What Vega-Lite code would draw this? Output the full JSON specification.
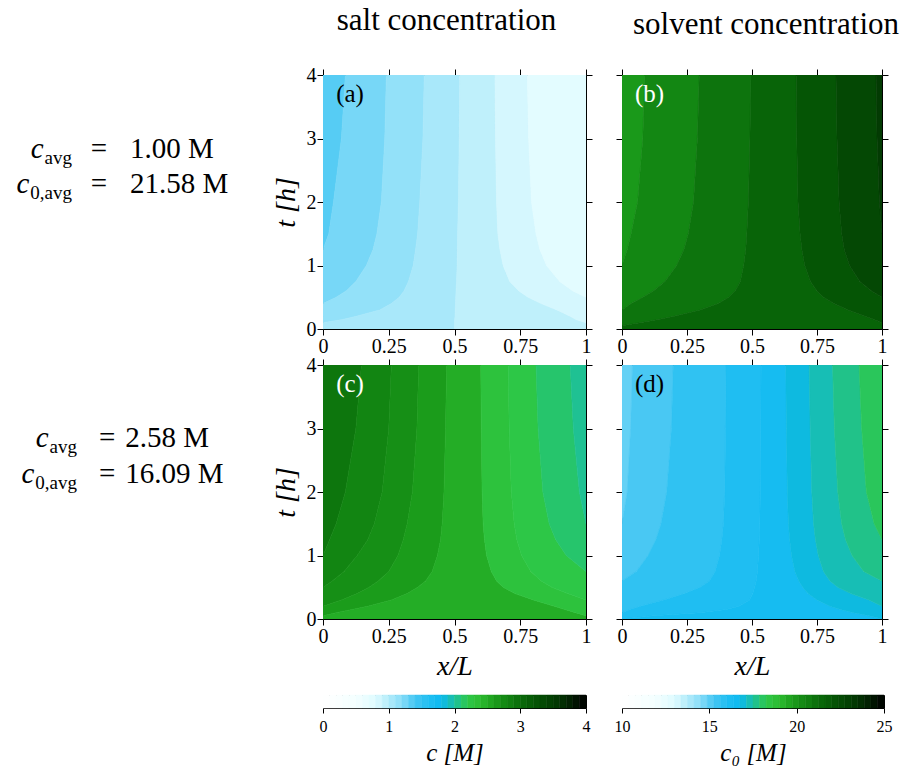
{
"$schema": "https://vega.github.io/schema/vega-lite/v6.json",
"padding": {"top": 4, "left": 0, "right": 0, "bottom": 0},
"config": {
 "font": "Liberation Serif",
 "view": {"stroke": "black", "strokeWidth": 1},
 "axis": {"domain": false, "grid": false, "tickColor": "black", "tickSize": 6, "tickWidth": 1, "labelFont": "Liberation Serif", "labelFontSize": 20, "labelColor": "black", "labelPadding": 1, "titleFont": "Liberation Serif", "titleFontSize": 28, "titleFontWeight": "normal", "titleFontStyle": "italic", "titleColor": "black", "titlePadding": 6},
 "title": {"font": "Liberation Serif", "fontWeight": "normal", "color": "black"},
 "text": {"font": "Liberation Serif", "color": "black"}
},
"datasets": {
"a": [
{"t":1.25,"xa":0,"xb":0,"v":1.35},{"t":1.5,"xa":0,"xb":0.022,"v":1.35},{"t":2,"xa":0,"xb":0.04,"v":1.35},{"t":3,"xa":0,"xb":0.07,"v":1.35},{"t":4,"xa":0,"xb":0.085,"v":1.35},
{"t":0.4,"xa":0,"xb":0,"v":1.25},{"t":0.5,"xa":0,"xb":0.05,"v":1.25},{"t":0.6,"xa":0,"xb":0.088,"v":1.25},{"t":0.75,"xa":0,"xb":0.125,"v":1.25},{"t":1,"xa":0,"xb":0.165,"v":1.25},{"t":1.25,"xa":0,"xb":0.19,"v":1.25},{"t":1.5,"xa":0.022,"xb":0.205,"v":1.25},{"t":2,"xa":0.04,"xb":0.222,"v":1.25},{"t":3,"xa":0.07,"xb":0.235,"v":1.25},{"t":4,"xa":0.085,"xb":0.241,"v":1.25},
{"t":0.1,"xa":0,"xb":0,"v":1.15},{"t":0.15,"xa":0,"xb":0.075,"v":1.15},{"t":0.2,"xa":0,"xb":0.127,"v":1.15},{"t":0.3,"xa":0,"xb":0.216,"v":1.15},{"t":0.4,"xa":0,"xb":0.26,"v":1.15},{"t":0.5,"xa":0.05,"xb":0.29,"v":1.15},{"t":0.6,"xa":0.088,"xb":0.308,"v":1.15},{"t":0.75,"xa":0.125,"xb":0.325,"v":1.15},{"t":1,"xa":0.165,"xb":0.343,"v":1.15},{"t":1.25,"xa":0.19,"xb":0.352,"v":1.15},{"t":1.5,"xa":0.205,"xb":0.36,"v":1.15},{"t":2,"xa":0.222,"xb":0.368,"v":1.15},{"t":3,"xa":0.235,"xb":0.38,"v":1.15},{"t":4,"xa":0.241,"xb":0.385,"v":1.15},
{"t":0,"xa":0,"xb":0.5,"v":1.05},{"t":0.05,"xa":0,"xb":0.5,"v":1.05},{"t":0.1,"xa":0,"xb":0.5,"v":1.05},{"t":0.15,"xa":0.075,"xb":0.501,"v":1.05},{"t":0.2,"xa":0.127,"xb":0.502,"v":1.05},{"t":0.3,"xa":0.216,"xb":0.503,"v":1.05},{"t":0.4,"xa":0.26,"xb":0.504,"v":1.05},{"t":0.5,"xa":0.29,"xb":0.505,"v":1.05},{"t":0.6,"xa":0.308,"xb":0.506,"v":1.05},{"t":0.75,"xa":0.325,"xb":0.508,"v":1.05},{"t":1,"xa":0.343,"xb":0.51,"v":1.05},{"t":1.25,"xa":0.352,"xb":0.511,"v":1.05},{"t":1.5,"xa":0.36,"xb":0.512,"v":1.05},{"t":2,"xa":0.368,"xb":0.515,"v":1.05},{"t":3,"xa":0.38,"xb":0.518,"v":1.05},{"t":4,"xa":0.385,"xb":0.52,"v":1.05},
{"t":0,"xa":0.5,"xb":1,"v":0.95},{"t":0.05,"xa":0.5,"xb":1,"v":0.95},{"t":0.1,"xa":0.5,"xb":1,"v":0.95},{"t":0.15,"xa":0.501,"xb":0.962,"v":0.95},{"t":0.2,"xa":0.502,"xb":0.94,"v":0.95},{"t":0.3,"xa":0.503,"xb":0.89,"v":0.95},{"t":0.4,"xa":0.504,"xb":0.83,"v":0.95},{"t":0.5,"xa":0.505,"xb":0.78,"v":0.95},{"t":0.6,"xa":0.506,"xb":0.745,"v":0.95},{"t":0.75,"xa":0.508,"xb":0.71,"v":0.95},{"t":1,"xa":0.51,"xb":0.685,"v":0.95},{"t":1.25,"xa":0.511,"xb":0.673,"v":0.95},{"t":1.5,"xa":0.512,"xb":0.665,"v":0.95},{"t":2,"xa":0.515,"xb":0.66,"v":0.95},{"t":3,"xa":0.518,"xb":0.656,"v":0.95},{"t":4,"xa":0.52,"xb":0.654,"v":0.95},
{"t":0.1,"xa":1,"xb":1,"v":0.85},{"t":0.15,"xa":0.962,"xb":1,"v":0.85},{"t":0.2,"xa":0.94,"xb":1,"v":0.85},{"t":0.3,"xa":0.89,"xb":1,"v":0.85},{"t":0.4,"xa":0.83,"xb":1,"v":0.85},{"t":0.5,"xa":0.78,"xb":1,"v":0.85},{"t":0.6,"xa":0.745,"xb":0.95,"v":0.85},{"t":0.75,"xa":0.71,"xb":0.9,"v":0.85},{"t":1,"xa":0.685,"xb":0.85,"v":0.85},{"t":1.25,"xa":0.673,"xb":0.825,"v":0.85},{"t":1.5,"xa":0.665,"xb":0.81,"v":0.85},{"t":2,"xa":0.66,"xb":0.793,"v":0.85},{"t":3,"xa":0.656,"xb":0.782,"v":0.85},{"t":4,"xa":0.654,"xb":0.777,"v":0.85},
{"t":0.5,"xa":1,"xb":1,"v":0.75},{"t":0.6,"xa":0.95,"xb":1,"v":0.75},{"t":0.75,"xa":0.9,"xb":1,"v":0.75},{"t":1,"xa":0.85,"xb":1,"v":0.75},{"t":1.25,"xa":0.825,"xb":1,"v":0.75},{"t":1.5,"xa":0.81,"xb":1,"v":0.75},{"t":2,"xa":0.793,"xb":1,"v":0.75},{"t":3,"xa":0.782,"xb":1,"v":0.75},{"t":4,"xa":0.777,"xb":1,"v":0.75}
],
"b": [
{"t":1,"xa":0,"xb":0,"v":19.9},{"t":1.25,"xa":0,"xb":0.02,"v":19.9},{"t":1.5,"xa":0,"xb":0.035,"v":19.9},{"t":2,"xa":0,"xb":0.06,"v":19.9},{"t":3,"xa":0,"xb":0.08,"v":19.9},{"t":4,"xa":0,"xb":0.088,"v":19.9},
{"t":0.3,"xa":0,"xb":0,"v":20.45},{"t":0.4,"xa":0,"xb":0.035,"v":20.45},{"t":0.5,"xa":0,"xb":0.08,"v":20.45},{"t":0.6,"xa":0,"xb":0.12,"v":20.45},{"t":0.75,"xa":0,"xb":0.165,"v":20.45},{"t":1,"xa":0,"xb":0.21,"v":20.45},{"t":1.25,"xa":0.02,"xb":0.238,"v":20.45},{"t":1.5,"xa":0.035,"xb":0.255,"v":20.45},{"t":2,"xa":0.06,"xb":0.275,"v":20.45},{"t":3,"xa":0.08,"xb":0.29,"v":20.45},{"t":4,"xa":0.088,"xb":0.297,"v":20.45},
{"t":0.05,"xa":0,"xb":0,"v":21.0},{"t":0.1,"xa":0,"xb":0.07,"v":21.0},{"t":0.15,"xa":0,"xb":0.14,"v":21.0},{"t":0.2,"xa":0,"xb":0.2,"v":21.0},{"t":0.3,"xa":0,"xb":0.3,"v":21.0},{"t":0.4,"xa":0.035,"xb":0.37,"v":21.0},{"t":0.5,"xa":0.08,"xb":0.41,"v":21.0},{"t":0.6,"xa":0.12,"xb":0.435,"v":21.0},{"t":0.75,"xa":0.165,"xb":0.455,"v":21.0},{"t":1,"xa":0.21,"xb":0.468,"v":21.0},{"t":1.25,"xa":0.238,"xb":0.476,"v":21.0},{"t":1.5,"xa":0.255,"xb":0.48,"v":21.0},{"t":2,"xa":0.275,"xb":0.486,"v":21.0},{"t":3,"xa":0.29,"xb":0.492,"v":21.0},{"t":4,"xa":0.297,"xb":0.496,"v":21.0},
{"t":0,"xa":0,"xb":1,"v":21.55},{"t":0.05,"xa":0,"xb":1,"v":21.55},{"t":0.1,"xa":0.07,"xb":1,"v":21.55},{"t":0.15,"xa":0.14,"xb":0.97,"v":21.55},{"t":0.2,"xa":0.2,"xb":0.935,"v":21.55},{"t":0.3,"xa":0.3,"xb":0.87,"v":21.55},{"t":0.4,"xa":0.37,"xb":0.815,"v":21.55},{"t":0.5,"xa":0.41,"xb":0.775,"v":21.55},{"t":0.6,"xa":0.435,"xb":0.75,"v":21.55},{"t":0.75,"xa":0.455,"xb":0.725,"v":21.55},{"t":1,"xa":0.468,"xb":0.703,"v":21.55},{"t":1.25,"xa":0.476,"xb":0.692,"v":21.55},{"t":1.5,"xa":0.48,"xb":0.685,"v":21.55},{"t":2,"xa":0.486,"xb":0.677,"v":21.55},{"t":3,"xa":0.492,"xb":0.672,"v":21.55},{"t":4,"xa":0.496,"xb":0.67,"v":21.55},
{"t":0.1,"xa":1,"xb":1,"v":22.1},{"t":0.15,"xa":0.97,"xb":1,"v":22.1},{"t":0.2,"xa":0.935,"xb":1,"v":22.1},{"t":0.3,"xa":0.87,"xb":1,"v":22.1},{"t":0.4,"xa":0.815,"xb":1,"v":22.1},{"t":0.5,"xa":0.775,"xb":1,"v":22.1},{"t":0.6,"xa":0.75,"xb":0.96,"v":22.1},{"t":0.75,"xa":0.725,"xb":0.915,"v":22.1},{"t":1,"xa":0.703,"xb":0.875,"v":22.1},{"t":1.25,"xa":0.692,"xb":0.855,"v":22.1},{"t":1.5,"xa":0.685,"xb":0.845,"v":22.1},{"t":2,"xa":0.677,"xb":0.835,"v":22.1},{"t":3,"xa":0.672,"xb":0.827,"v":22.1},{"t":4,"xa":0.67,"xb":0.823,"v":22.1},
{"t":0.5,"xa":1,"xb":1,"v":22.65},{"t":0.6,"xa":0.96,"xb":1,"v":22.65},{"t":0.75,"xa":0.915,"xb":1,"v":22.65},{"t":1,"xa":0.875,"xb":1,"v":22.65},{"t":1.25,"xa":0.855,"xb":1,"v":22.65},{"t":1.5,"xa":0.845,"xb":1,"v":22.65},{"t":2,"xa":0.835,"xb":0.99,"v":22.65},{"t":3,"xa":0.827,"xb":0.981,"v":22.65},{"t":4,"xa":0.823,"xb":0.977,"v":22.65},
{"t":1.5,"xa":1,"xb":1,"v":23.2},{"t":2,"xa":0.99,"xb":1,"v":23.2},{"t":3,"xa":0.981,"xb":1,"v":23.2},{"t":4,"xa":0.977,"xb":1,"v":23.2}
],
"c": [
{"t":1,"xa":0,"xb":0,"v":2.92},{"t":1.25,"xa":0,"xb":0.025,"v":2.92},{"t":1.5,"xa":0,"xb":0.05,"v":2.92},{"t":2,"xa":0,"xb":0.085,"v":2.92},{"t":3,"xa":0,"xb":0.125,"v":2.92},{"t":4,"xa":0,"xb":0.146,"v":2.92},
{"t":0.5,"xa":0,"xb":0,"v":2.8},{"t":0.6,"xa":0,"xb":0.035,"v":2.8},{"t":0.75,"xa":0,"xb":0.08,"v":2.8},{"t":1,"xa":0,"xb":0.13,"v":2.8},{"t":1.25,"xa":0.025,"xb":0.17,"v":2.8},{"t":1.5,"xa":0.05,"xb":0.195,"v":2.8},{"t":2,"xa":0.085,"xb":0.225,"v":2.8},{"t":3,"xa":0.125,"xb":0.25,"v":2.8},{"t":4,"xa":0.146,"xb":0.26,"v":2.8},
{"t":0.2,"xa":0,"xb":0,"v":2.72},{"t":0.3,"xa":0,"xb":0.07,"v":2.72},{"t":0.4,"xa":0,"xb":0.13,"v":2.72},{"t":0.5,"xa":0,"xb":0.175,"v":2.72},{"t":0.6,"xa":0.035,"xb":0.21,"v":2.72},{"t":0.75,"xa":0.08,"xb":0.25,"v":2.72},{"t":1,"xa":0.13,"xb":0.285,"v":2.72},{"t":1.25,"xa":0.17,"xb":0.305,"v":2.72},{"t":1.5,"xa":0.195,"xb":0.32,"v":2.72},{"t":2,"xa":0.225,"xb":0.34,"v":2.72},{"t":3,"xa":0.25,"xb":0.357,"v":2.72},{"t":4,"xa":0.26,"xb":0.364,"v":2.72},
{"t":0.05,"xa":0,"xb":0,"v":2.62},{"t":0.1,"xa":0,"xb":0.05,"v":2.62},{"t":0.15,"xa":0,"xb":0.11,"v":2.62},{"t":0.2,"xa":0,"xb":0.17,"v":2.62},{"t":0.3,"xa":0.07,"xb":0.26,"v":2.62},{"t":0.4,"xa":0.13,"xb":0.32,"v":2.62},{"t":0.5,"xa":0.175,"xb":0.36,"v":2.62},{"t":0.6,"xa":0.21,"xb":0.39,"v":2.62},{"t":0.75,"xa":0.25,"xb":0.415,"v":2.62},{"t":1,"xa":0.285,"xb":0.435,"v":2.62},{"t":1.25,"xa":0.305,"xb":0.447,"v":2.62},{"t":1.5,"xa":0.32,"xb":0.453,"v":2.62},{"t":2,"xa":0.34,"xb":0.46,"v":2.62},{"t":3,"xa":0.357,"xb":0.466,"v":2.62},{"t":4,"xa":0.364,"xb":0.47,"v":2.62},
{"t":0,"xa":0,"xb":1,"v":2.5},{"t":0.05,"xa":0,"xb":1,"v":2.5},{"t":0.1,"xa":0.05,"xb":0.96,"v":2.5},{"t":0.15,"xa":0.11,"xb":0.92,"v":2.5},{"t":0.2,"xa":0.17,"xb":0.88,"v":2.5},{"t":0.3,"xa":0.26,"xb":0.8,"v":2.5},{"t":0.4,"xa":0.32,"xb":0.73,"v":2.5},{"t":0.5,"xa":0.36,"xb":0.685,"v":2.5},{"t":0.6,"xa":0.39,"xb":0.66,"v":2.5},{"t":0.75,"xa":0.415,"xb":0.64,"v":2.5},{"t":1,"xa":0.435,"xb":0.622,"v":2.5},{"t":1.25,"xa":0.447,"xb":0.614,"v":2.5},{"t":1.5,"xa":0.453,"xb":0.609,"v":2.5},{"t":2,"xa":0.46,"xb":0.605,"v":2.5},{"t":3,"xa":0.466,"xb":0.602,"v":2.5},{"t":4,"xa":0.47,"xb":0.6,"v":2.5},
{"t":0.05,"xa":1,"xb":1,"v":2.3},{"t":0.1,"xa":0.96,"xb":1,"v":2.3},{"t":0.15,"xa":0.92,"xb":1,"v":2.3},{"t":0.2,"xa":0.88,"xb":1,"v":2.3},{"t":0.3,"xa":0.8,"xb":1,"v":2.3},{"t":0.4,"xa":0.73,"xb":0.93,"v":2.3},{"t":0.5,"xa":0.685,"xb":0.87,"v":2.3},{"t":0.6,"xa":0.66,"xb":0.83,"v":2.3},{"t":0.75,"xa":0.64,"xb":0.79,"v":2.3},{"t":1,"xa":0.622,"xb":0.755,"v":2.3},{"t":1.25,"xa":0.614,"xb":0.737,"v":2.3},{"t":1.5,"xa":0.609,"xb":0.727,"v":2.3},{"t":2,"xa":0.605,"xb":0.716,"v":2.3},{"t":3,"xa":0.602,"xb":0.708,"v":2.3},{"t":4,"xa":0.6,"xb":0.704,"v":2.3},
{"t":0.3,"xa":1,"xb":1,"v":2.22},{"t":0.4,"xa":0.93,"xb":1,"v":2.22},{"t":0.5,"xa":0.87,"xb":1,"v":2.22},{"t":0.6,"xa":0.83,"xb":1,"v":2.22},{"t":0.75,"xa":0.79,"xb":1,"v":2.22},{"t":1,"xa":0.755,"xb":0.925,"v":2.22},{"t":1.25,"xa":0.737,"xb":0.885,"v":2.22},{"t":1.5,"xa":0.727,"xb":0.86,"v":2.22},{"t":2,"xa":0.716,"xb":0.836,"v":2.22},{"t":3,"xa":0.708,"xb":0.818,"v":2.22},{"t":4,"xa":0.704,"xb":0.81,"v":2.22},
{"t":0.75,"xa":1,"xb":1,"v":2.12},{"t":1,"xa":0.925,"xb":1,"v":2.12},{"t":1.25,"xa":0.885,"xb":1,"v":2.12},{"t":1.5,"xa":0.86,"xb":1,"v":2.12},{"t":2,"xa":0.836,"xb":0.975,"v":2.12},{"t":3,"xa":0.818,"xb":0.952,"v":2.12},{"t":4,"xa":0.81,"xb":0.94,"v":2.12},
{"t":1.5,"xa":1,"xb":1,"v":2.03},{"t":2,"xa":0.975,"xb":1,"v":2.03},{"t":3,"xa":0.952,"xb":1,"v":2.03},{"t":4,"xa":0.94,"xb":1,"v":2.03}
],
"d": [
{"t":1.5,"xa":0,"xb":0,"v":14.9},{"t":2,"xa":0,"xb":0.02,"v":14.9},{"t":3,"xa":0,"xb":0.033,"v":14.9},{"t":4,"xa":0,"xb":0.04,"v":14.9},
{"t":0.6,"xa":0,"xb":0,"v":15.2},{"t":0.75,"xa":0,"xb":0.055,"v":15.2},{"t":1,"xa":0,"xb":0.1,"v":15.2},{"t":1.25,"xa":0,"xb":0.13,"v":15.2},{"t":1.5,"xa":0,"xb":0.15,"v":15.2},{"t":2,"xa":0.02,"xb":0.172,"v":15.2},{"t":3,"xa":0.033,"xb":0.19,"v":15.2},{"t":4,"xa":0.04,"xb":0.197,"v":15.2},
{"t":0.1,"xa":0,"xb":0,"v":15.7},{"t":0.15,"xa":0,"xb":0.03,"v":15.7},{"t":0.2,"xa":0,"xb":0.07,"v":15.7},{"t":0.3,"xa":0,"xb":0.16,"v":15.7},{"t":0.4,"xa":0,"xb":0.24,"v":15.7},{"t":0.5,"xa":0,"xb":0.3,"v":15.7},{"t":0.6,"xa":0,"xb":0.336,"v":15.7},{"t":0.75,"xa":0.055,"xb":0.358,"v":15.7},{"t":1,"xa":0.1,"xb":0.375,"v":15.7},{"t":1.25,"xa":0.13,"xb":0.384,"v":15.7},{"t":1.5,"xa":0.15,"xb":0.39,"v":15.7},{"t":2,"xa":0.172,"xb":0.395,"v":15.7},{"t":3,"xa":0.19,"xb":0.398,"v":15.7},{"t":4,"xa":0.197,"xb":0.4,"v":15.7},
{"t":0,"xa":0,"xb":0,"v":16.1},{"t":0.05,"xa":0,"xb":0.12,"v":16.1},{"t":0.1,"xa":0,"xb":0.3,"v":16.1},{"t":0.15,"xa":0.03,"xb":0.4,"v":16.1},{"t":0.2,"xa":0.07,"xb":0.45,"v":16.1},{"t":0.3,"xa":0.16,"xb":0.49,"v":16.1},{"t":0.4,"xa":0.24,"xb":0.503,"v":16.1},{"t":0.5,"xa":0.3,"xb":0.51,"v":16.1},{"t":0.6,"xa":0.336,"xb":0.516,"v":16.1},{"t":0.75,"xa":0.358,"xb":0.521,"v":16.1},{"t":1,"xa":0.375,"xb":0.525,"v":16.1},{"t":1.25,"xa":0.384,"xb":0.528,"v":16.1},{"t":1.5,"xa":0.39,"xb":0.53,"v":16.1},{"t":2,"xa":0.395,"xb":0.532,"v":16.1},{"t":3,"xa":0.398,"xb":0.534,"v":16.1},{"t":4,"xa":0.4,"xb":0.535,"v":16.1},
{"t":0,"xa":0,"xb":1,"v":16.4},{"t":0.05,"xa":0.12,"xb":0.95,"v":16.4},{"t":0.1,"xa":0.3,"xb":0.89,"v":16.4},{"t":0.15,"xa":0.4,"xb":0.84,"v":16.4},{"t":0.2,"xa":0.45,"xb":0.8,"v":16.4},{"t":0.3,"xa":0.49,"xb":0.75,"v":16.4},{"t":0.4,"xa":0.503,"xb":0.715,"v":16.4},{"t":0.5,"xa":0.51,"xb":0.695,"v":16.4},{"t":0.6,"xa":0.516,"xb":0.68,"v":16.4},{"t":0.75,"xa":0.521,"xb":0.665,"v":16.4},{"t":1,"xa":0.525,"xb":0.652,"v":16.4},{"t":1.25,"xa":0.528,"xb":0.645,"v":16.4},{"t":1.5,"xa":0.53,"xb":0.64,"v":16.4},{"t":2,"xa":0.532,"xb":0.636,"v":16.4},{"t":3,"xa":0.534,"xb":0.632,"v":16.4},{"t":4,"xa":0.535,"xb":0.63,"v":16.4},
{"t":0,"xa":1,"xb":1,"v":16.9},{"t":0.05,"xa":0.95,"xb":1,"v":16.9},{"t":0.1,"xa":0.89,"xb":1,"v":16.9},{"t":0.15,"xa":0.84,"xb":1,"v":16.9},{"t":0.2,"xa":0.8,"xb":1,"v":16.9},{"t":0.3,"xa":0.75,"xb":0.95,"v":16.9},{"t":0.4,"xa":0.715,"xb":0.88,"v":16.9},{"t":0.5,"xa":0.695,"xb":0.83,"v":16.9},{"t":0.6,"xa":0.68,"xb":0.8,"v":16.9},{"t":0.75,"xa":0.665,"xb":0.775,"v":16.9},{"t":1,"xa":0.652,"xb":0.755,"v":16.9},{"t":1.25,"xa":0.645,"xb":0.744,"v":16.9},{"t":1.5,"xa":0.64,"xb":0.737,"v":16.9},{"t":2,"xa":0.636,"xb":0.73,"v":16.9},{"t":3,"xa":0.632,"xb":0.724,"v":16.9},{"t":4,"xa":0.63,"xb":0.72,"v":16.9},
{"t":0.2,"xa":1,"xb":1,"v":17.3},{"t":0.3,"xa":0.95,"xb":1,"v":17.3},{"t":0.4,"xa":0.88,"xb":1,"v":17.3},{"t":0.5,"xa":0.83,"xb":1,"v":17.3},{"t":0.6,"xa":0.8,"xb":1,"v":17.3},{"t":0.75,"xa":0.775,"xb":0.93,"v":17.3},{"t":1,"xa":0.755,"xb":0.885,"v":17.3},{"t":1.25,"xa":0.744,"xb":0.86,"v":17.3},{"t":1.5,"xa":0.737,"xb":0.845,"v":17.3},{"t":2,"xa":0.73,"xb":0.83,"v":17.3},{"t":3,"xa":0.724,"xb":0.817,"v":17.3},{"t":4,"xa":0.72,"xb":0.81,"v":17.3},
{"t":0.6,"xa":1,"xb":1,"v":17.7},{"t":0.75,"xa":0.93,"xb":1,"v":17.7},{"t":1,"xa":0.885,"xb":1,"v":17.7},{"t":1.25,"xa":0.86,"xb":1,"v":17.7},{"t":1.5,"xa":0.845,"xb":0.97,"v":17.7},{"t":2,"xa":0.83,"xb":0.94,"v":17.7},{"t":3,"xa":0.817,"xb":0.922,"v":17.7},{"t":4,"xa":0.81,"xb":0.912,"v":17.7},
{"t":1.25,"xa":1,"xb":1,"v":18.1},{"t":1.5,"xa":0.97,"xb":1,"v":18.1},{"t":2,"xa":0.94,"xb":1,"v":18.1},{"t":3,"xa":0.922,"xb":1,"v":18.1},{"t":4,"xa":0.912,"xb":1,"v":18.1}
],
"cbs": [
{"a":0,"b":0.1,"v":0.05},{"a":0.1,"b":0.2,"v":0.15},{"a":0.2,"b":0.3,"v":0.25},{"a":0.3,"b":0.4,"v":0.35},{"a":0.4,"b":0.5,"v":0.45},{"a":0.5,"b":0.6,"v":0.55},{"a":0.6,"b":0.7,"v":0.65},{"a":0.7,"b":0.8,"v":0.75},{"a":0.8,"b":0.9,"v":0.85},{"a":0.9,"b":1,"v":0.95},
{"a":1,"b":1.1,"v":1.05},{"a":1.1,"b":1.2,"v":1.15},{"a":1.2,"b":1.3,"v":1.25},{"a":1.3,"b":1.4,"v":1.35},{"a":1.4,"b":1.5,"v":1.45},{"a":1.5,"b":1.6,"v":1.55},{"a":1.6,"b":1.7,"v":1.65},{"a":1.7,"b":1.8,"v":1.75},{"a":1.8,"b":1.9,"v":1.85},{"a":1.9,"b":2,"v":1.95},
{"a":2,"b":2.1,"v":2.05},{"a":2.1,"b":2.2,"v":2.15},{"a":2.2,"b":2.3,"v":2.25},{"a":2.3,"b":2.4,"v":2.35},{"a":2.4,"b":2.5,"v":2.45},{"a":2.5,"b":2.6,"v":2.55},{"a":2.6,"b":2.7,"v":2.65},{"a":2.7,"b":2.8,"v":2.75},{"a":2.8,"b":2.9,"v":2.85},{"a":2.9,"b":3,"v":2.95},
{"a":3,"b":3.1,"v":3.05},{"a":3.1,"b":3.2,"v":3.15},{"a":3.2,"b":3.3,"v":3.25},{"a":3.3,"b":3.4,"v":3.35},{"a":3.4,"b":3.5,"v":3.45},{"a":3.5,"b":3.6,"v":3.55},{"a":3.6,"b":3.7,"v":3.65},{"a":3.7,"b":3.8,"v":3.75},{"a":3.8,"b":3.9,"v":3.85},{"a":3.9,"b":4,"v":3.95}
],
"cbv": [
{"a":10,"b":10.375,"v":10.1875},{"a":10.375,"b":10.75,"v":10.5625},{"a":10.75,"b":11.125,"v":10.9375},{"a":11.125,"b":11.5,"v":11.3125},{"a":11.5,"b":11.875,"v":11.6875},{"a":11.875,"b":12.25,"v":12.0625},{"a":12.25,"b":12.625,"v":12.4375},{"a":12.625,"b":13,"v":12.8125},{"a":13,"b":13.375,"v":13.1875},{"a":13.375,"b":13.75,"v":13.5625},
{"a":13.75,"b":14.125,"v":13.9375},{"a":14.125,"b":14.5,"v":14.3125},{"a":14.5,"b":14.875,"v":14.6875},{"a":14.875,"b":15.25,"v":15.0625},{"a":15.25,"b":15.625,"v":15.4375},{"a":15.625,"b":16,"v":15.8125},{"a":16,"b":16.375,"v":16.1875},{"a":16.375,"b":16.75,"v":16.5625},{"a":16.75,"b":17.125,"v":16.9375},{"a":17.125,"b":17.5,"v":17.3125},
{"a":17.5,"b":17.875,"v":17.6875},{"a":17.875,"b":18.25,"v":18.0625},{"a":18.25,"b":18.625,"v":18.4375},{"a":18.625,"b":19,"v":18.8125},{"a":19,"b":19.375,"v":19.1875},{"a":19.375,"b":19.75,"v":19.5625},{"a":19.75,"b":20.125,"v":19.9375},{"a":20.125,"b":20.5,"v":20.3125},{"a":20.5,"b":20.875,"v":20.6875},{"a":20.875,"b":21.25,"v":21.0625},
{"a":21.25,"b":21.625,"v":21.4375},{"a":21.625,"b":22,"v":21.8125},{"a":22,"b":22.375,"v":22.1875},{"a":22.375,"b":22.75,"v":22.5625},{"a":22.75,"b":23.125,"v":22.9375},{"a":23.125,"b":23.5,"v":23.3125},{"a":23.5,"b":23.875,"v":23.6875},{"a":23.875,"b":24.25,"v":24.0625},{"a":24.25,"b":24.625,"v":24.4375},{"a":24.625,"b":25,"v":24.8125}
]
},
"vconcat": [
{
"concat": [
{
 "width": 287, "height": 254,
 "view": {"stroke": null},
 "data": {"values": [{"line": 1, "sub": "avg", "rhs": "1.00 M"}, {"line": 2, "sub": "0,avg", "rhs": "21.58 M"}]},
 "encoding": {"y": {"field": "line", "type": "ordinal", "scale": {"type": "point", "range": [83, 118], "padding": 0}, "axis": null}},
 "layer": [
  {"transform": [{"filter": "datum.line == 1"}], "mark": {"type": "text", "text": "c", "fontStyle": "italic", "fontSize": 29, "align": "right", "baseline": "alphabetic"}, "encoding": {"x": {"datum": 0.152, "type": "quantitative", "scale": {"domain": [0, 1]}, "axis": null}}},
  {"transform": [{"filter": "datum.line == 2"}], "mark": {"type": "text", "text": "c", "fontStyle": "italic", "fontSize": 29, "align": "right", "baseline": "alphabetic"}, "encoding": {"x": {"datum": 0.102, "type": "quantitative", "axis": null}}},
  {"mark": {"type": "text", "fontSize": 19, "align": "right", "baseline": "alphabetic", "dy": 6}, "encoding": {"x": {"datum": 0.251, "type": "quantitative", "axis": null}, "text": {"field": "sub"}}},
  {"mark": {"type": "text", "text": "=", "fontSize": 29, "align": "center", "baseline": "alphabetic"}, "encoding": {"x": {"datum": 0.345, "type": "quantitative", "axis": null}}},
  {"mark": {"type": "text", "fontSize": 29, "align": "left", "baseline": "alphabetic"}, "encoding": {"x": {"datum": 0.453, "type": "quantitative", "axis": null}, "text": {"field": "rhs"}}}
 ]
},
{
 "width": 263, "height": 254,
 "title": {"text": "salt concentration", "fontSize": 31, "fontWeight": "normal", "offset": 28, "dx": -8},
 "layer": [
  {"data": {"name": "a"}, "mark": {"type": "area", "orient": "horizontal", "interpolate": "linear", "strokeWidth": 0.6, "clip": true},
   "encoding": {
    "y": {"field": "t", "type": "quantitative", "scale": {"domain": [0, 4], "nice": false, "zero": false}, "axis": {"values": [0, 1, 2, 3, 4], "title": "t [h]"}},
    "x": {"field": "xa", "type": "quantitative", "stack": null, "scale": {"domain": [0, 1], "nice": false, "zero": false}, "axis": {"values": [0, 0.25, 0.5, 0.75, 1], "labelExpr": "format(datum.value, '~g')", "labelFlush": false, "title": null}},
    "x2": {"field": "xb"},
    "detail": {"field": "v", "type": "quantitative"},
    "fill": {"field": "v", "type": "quantitative", "scale": {"domain": [0,0.5,0.8,1,1.2,1.4,1.6,1.8,2,2.2,2.4,2.6,2.8,3,3.3,3.6,4], "range": ["#ffffff","#f4ffff","#e0fbff","#b4ecfa","#88ddf8","#45c6f3","#22bff2","#0bb9f0","#1cc0a0","#2dc84a","#2cbc30","#1c9e1c","#128512","#0a6c0a","#044e04","#023402","#000000"], "interpolate": "rgb"}, "legend": null},
    "stroke": {"field": "v", "type": "quantitative", "scale": {"domain": [0,0.5,0.8,1,1.2,1.4,1.6,1.8,2,2.2,2.4,2.6,2.8,3,3.3,3.6,4], "range": ["#ffffff","#f4ffff","#e0fbff","#b4ecfa","#88ddf8","#45c6f3","#22bff2","#0bb9f0","#1cc0a0","#2dc84a","#2cbc30","#1c9e1c","#128512","#0a6c0a","#044e04","#023402","#000000"], "interpolate": "rgb"}, "legend": null}
   }},
  {"data": {"values": [{"x": 0, "t": 0}]}, "mark": {"type": "point", "opacity": 0},
   "encoding": {"x": {"field": "x", "type": "quantitative", "axis": {"orient": "top", "values": [0, 0.25, 0.5, 0.75, 1], "labels": false, "title": null}}, "y": {"field": "t", "type": "quantitative", "axis": {"orient": "right", "values": [0, 1, 2, 3, 4], "labels": false, "title": null}}}},
  {"data": {"values": [{"label": "(a)"}]}, "mark": {"type": "text", "align": "left", "baseline": "middle", "fontSize": 25, "color": "black"},
   "encoding": {"x": {"datum": 0.05, "type": "quantitative", "axis": null}, "y": {"datum": 3.7, "type": "quantitative", "axis": null}, "text": {"field": "label"}}}
 ],
 "resolve": {"axis": {"x": "independent", "y": "independent"}}
},
{
 "width": 260, "height": 254,
 "title": {"text": "solvent concentration", "fontSize": 31, "fontWeight": "normal", "offset": 28, "dx": 14},
 "layer": [
  {"data": {"name": "b"}, "mark": {"type": "area", "orient": "horizontal", "interpolate": "linear", "strokeWidth": 0.6, "clip": true},
   "encoding": {
    "y": {"field": "t", "type": "quantitative", "scale": {"domain": [0, 4], "nice": false, "zero": false}, "axis": {"values": [0, 1, 2, 3, 4], "labels": false, "title": null}},
    "x": {"field": "xa", "type": "quantitative", "stack": null, "scale": {"domain": [0, 1], "nice": false, "zero": false}, "axis": {"values": [0, 0.25, 0.5, 0.75, 1], "labelExpr": "format(datum.value, '~g')", "labelFlush": false, "title": null}},
    "x2": {"field": "xb"},
    "detail": {"field": "v", "type": "quantitative"},
    "fill": {"field": "v", "type": "quantitative", "scale": {"domain": [10,11.875,13,13.75,14.5,15.25,16,16.75,17.5,18.25,19,19.75,20.5,21.25,22.375,23.5,25], "range": ["#ffffff","#f4ffff","#e0fbff","#b4ecfa","#88ddf8","#45c6f3","#22bff2","#0bb9f0","#1cc0a0","#2dc84a","#2cbc30","#1c9e1c","#128512","#0a6c0a","#044e04","#023402","#000000"], "interpolate": "rgb"}, "legend": null},
    "stroke": {"field": "v", "type": "quantitative", "scale": {"domain": [10,11.875,13,13.75,14.5,15.25,16,16.75,17.5,18.25,19,19.75,20.5,21.25,22.375,23.5,25], "range": ["#ffffff","#f4ffff","#e0fbff","#b4ecfa","#88ddf8","#45c6f3","#22bff2","#0bb9f0","#1cc0a0","#2dc84a","#2cbc30","#1c9e1c","#128512","#0a6c0a","#044e04","#023402","#000000"], "interpolate": "rgb"}, "legend": null}
   }},
  {"data": {"values": [{"x": 0, "t": 0}]}, "mark": {"type": "point", "opacity": 0},
   "encoding": {"x": {"field": "x", "type": "quantitative", "axis": {"orient": "top", "values": [0, 0.25, 0.5, 0.75, 1], "labels": false, "title": null}}, "y": {"field": "t", "type": "quantitative", "axis": {"orient": "right", "values": [0, 1, 2, 3, 4], "labels": false, "title": null}}}},
  {"data": {"values": [{"label": "(b)"}]}, "mark": {"type": "text", "align": "left", "baseline": "middle", "fontSize": 25, "color": "white"},
   "encoding": {"x": {"datum": 0.05, "type": "quantitative", "axis": null}, "y": {"datum": 3.7, "type": "quantitative", "axis": null}, "text": {"field": "label"}}}
 ],
 "resolve": {"axis": {"x": "independent", "y": "independent"}}
},
{
 "width": 287, "height": 254,
 "view": {"stroke": null},
 "data": {"values": [{"line": 1, "sub": "avg", "rhs": "2.58 M"}, {"line": 2, "sub": "0,avg", "rhs": "16.09 M"}]},
 "encoding": {"y": {"field": "line", "type": "ordinal", "scale": {"type": "point", "range": [82, 118], "padding": 0}, "axis": null}},
 "layer": [
  {"transform": [{"filter": "datum.line == 1"}], "mark": {"type": "text", "text": "c", "fontStyle": "italic", "fontSize": 29, "align": "right", "baseline": "alphabetic"}, "encoding": {"x": {"datum": 0.169, "type": "quantitative", "scale": {"domain": [0, 1]}, "axis": null}}},
  {"transform": [{"filter": "datum.line == 2"}], "mark": {"type": "text", "text": "c", "fontStyle": "italic", "fontSize": 29, "align": "right", "baseline": "alphabetic"}, "encoding": {"x": {"datum": 0.12, "type": "quantitative", "axis": null}}},
  {"mark": {"type": "text", "fontSize": 19, "align": "right", "baseline": "alphabetic", "dy": 6}, "encoding": {"x": {"datum": 0.268, "type": "quantitative", "axis": null}, "text": {"field": "sub"}}},
  {"mark": {"type": "text", "text": "=", "fontSize": 29, "align": "center", "baseline": "alphabetic"}, "encoding": {"x": {"datum": 0.373, "type": "quantitative", "axis": null}}},
  {"mark": {"type": "text", "fontSize": 29, "align": "left", "baseline": "alphabetic"}, "encoding": {"x": {"datum": 0.436, "type": "quantitative", "axis": null}, "text": {"field": "rhs"}}}
 ]
},
{
 "width": 263, "height": 254,
 "layer": [
  {"data": {"name": "c"}, "mark": {"type": "area", "orient": "horizontal", "interpolate": "linear", "strokeWidth": 0.6, "clip": true},
   "encoding": {
    "y": {"field": "t", "type": "quantitative", "scale": {"domain": [0, 4], "nice": false, "zero": false}, "axis": {"values": [0, 1, 2, 3, 4], "title": "t [h]"}},
    "x": {"field": "xa", "type": "quantitative", "stack": null, "scale": {"domain": [0, 1], "nice": false, "zero": false}, "axis": {"values": [0, 0.25, 0.5, 0.75, 1], "labelExpr": "format(datum.value, '~g')", "labelFlush": false, "title": "x/L"}},
    "x2": {"field": "xb"},
    "detail": {"field": "v", "type": "quantitative"},
    "fill": {"field": "v", "type": "quantitative", "scale": {"domain": [0,0.5,0.8,1,1.2,1.4,1.6,1.8,2,2.2,2.4,2.6,2.8,3,3.3,3.6,4], "range": ["#ffffff","#f4ffff","#e0fbff","#b4ecfa","#88ddf8","#45c6f3","#22bff2","#0bb9f0","#1cc0a0","#2dc84a","#2cbc30","#1c9e1c","#128512","#0a6c0a","#044e04","#023402","#000000"], "interpolate": "rgb"}, "legend": null},
    "stroke": {"field": "v", "type": "quantitative", "scale": {"domain": [0,0.5,0.8,1,1.2,1.4,1.6,1.8,2,2.2,2.4,2.6,2.8,3,3.3,3.6,4], "range": ["#ffffff","#f4ffff","#e0fbff","#b4ecfa","#88ddf8","#45c6f3","#22bff2","#0bb9f0","#1cc0a0","#2dc84a","#2cbc30","#1c9e1c","#128512","#0a6c0a","#044e04","#023402","#000000"], "interpolate": "rgb"}, "legend": null}
   }},
  {"data": {"values": [{"x": 0, "t": 0}]}, "mark": {"type": "point", "opacity": 0},
   "encoding": {"x": {"field": "x", "type": "quantitative", "axis": {"orient": "top", "values": [0, 0.25, 0.5, 0.75, 1], "labels": false, "title": null}}, "y": {"field": "t", "type": "quantitative", "axis": {"orient": "right", "values": [0, 1, 2, 3, 4], "labels": false, "title": null}}}},
  {"data": {"values": [{"label": "(c)"}]}, "mark": {"type": "text", "align": "left", "baseline": "middle", "fontSize": 25, "color": "white"},
   "encoding": {"x": {"datum": 0.05, "type": "quantitative", "axis": null}, "y": {"datum": 3.7, "type": "quantitative", "axis": null}, "text": {"field": "label"}}}
 ],
 "resolve": {"axis": {"x": "independent", "y": "independent"}}
},
{
 "width": 260, "height": 254,
 "layer": [
  {"data": {"name": "d"}, "mark": {"type": "area", "orient": "horizontal", "interpolate": "linear", "strokeWidth": 0.6, "clip": true},
   "encoding": {
    "y": {"field": "t", "type": "quantitative", "scale": {"domain": [0, 4], "nice": false, "zero": false}, "axis": {"values": [0, 1, 2, 3, 4], "labels": false, "title": null}},
    "x": {"field": "xa", "type": "quantitative", "stack": null, "scale": {"domain": [0, 1], "nice": false, "zero": false}, "axis": {"values": [0, 0.25, 0.5, 0.75, 1], "labelExpr": "format(datum.value, '~g')", "labelFlush": false, "title": "x/L"}},
    "x2": {"field": "xb"},
    "detail": {"field": "v", "type": "quantitative"},
    "fill": {"field": "v", "type": "quantitative", "scale": {"domain": [10,11.875,13,13.75,14.5,15.25,16,16.75,17.5,18.25,19,19.75,20.5,21.25,22.375,23.5,25], "range": ["#ffffff","#f4ffff","#e0fbff","#b4ecfa","#88ddf8","#45c6f3","#22bff2","#0bb9f0","#1cc0a0","#2dc84a","#2cbc30","#1c9e1c","#128512","#0a6c0a","#044e04","#023402","#000000"], "interpolate": "rgb"}, "legend": null},
    "stroke": {"field": "v", "type": "quantitative", "scale": {"domain": [10,11.875,13,13.75,14.5,15.25,16,16.75,17.5,18.25,19,19.75,20.5,21.25,22.375,23.5,25], "range": ["#ffffff","#f4ffff","#e0fbff","#b4ecfa","#88ddf8","#45c6f3","#22bff2","#0bb9f0","#1cc0a0","#2dc84a","#2cbc30","#1c9e1c","#128512","#0a6c0a","#044e04","#023402","#000000"], "interpolate": "rgb"}, "legend": null}
   }},
  {"data": {"values": [{"x": 0, "t": 0}]}, "mark": {"type": "point", "opacity": 0},
   "encoding": {"x": {"field": "x", "type": "quantitative", "axis": {"orient": "top", "values": [0, 0.25, 0.5, 0.75, 1], "labels": false, "title": null}}, "y": {"field": "t", "type": "quantitative", "axis": {"orient": "right", "values": [0, 1, 2, 3, 4], "labels": false, "title": null}}}},
  {"data": {"values": [{"label": "(d)"}]}, "mark": {"type": "text", "align": "left", "baseline": "middle", "fontSize": 25, "color": "black"},
   "encoding": {"x": {"datum": 0.05, "type": "quantitative", "axis": null}, "y": {"datum": 3.7, "type": "quantitative", "axis": null}, "text": {"field": "label"}}}
 ],
 "resolve": {"axis": {"x": "independent", "y": "independent"}}
}
],
"columns": 3,
"spacing": {"row": 36, "column": 36},
"bounds": "flush",
"resolve": {"scale": {"fill": "independent", "stroke": "independent"}, "legend": {"fill": "independent", "stroke": "independent"}}
},
{
"hconcat": [
{
 "width": 287, "height": 13,
 "view": {"stroke": null},
 "data": {"values": []},
 "mark": {"type": "point", "opacity": 0}
},
{
 "width": 263, "height": 13,
 "data": {"name": "cbs"},
 "mark": {"type": "rect", "strokeWidth": 0.5},
 "encoding": {
  "x": {"field": "a", "type": "quantitative", "scale": {"domain": [0, 4], "nice": false, "zero": false}, "axis": {"values": [0, 1, 2, 3, 4], "labelExpr": "format(datum.value, '~g')", "labelFontSize": 16, "tickSize": 5, "labelPadding": 5, "labelFlush": false, "title": "c [M]", "titleFontSize": 25, "titlePadding": 6}},
  "x2": {"field": "b"},
  "fill": {"field": "v", "type": "quantitative", "scale": {"domain": [0,0.5,0.8,1,1.2,1.4,1.6,1.8,2,2.2,2.4,2.6,2.8,3,3.3,3.6,4], "range": ["#ffffff","#f4ffff","#e0fbff","#b4ecfa","#88ddf8","#45c6f3","#22bff2","#0bb9f0","#1cc0a0","#2dc84a","#2cbc30","#1c9e1c","#128512","#0a6c0a","#044e04","#023402","#000000"], "interpolate": "rgb"}, "legend": null},
  "stroke": {"field": "v", "type": "quantitative", "scale": {"domain": [0,0.5,0.8,1,1.2,1.4,1.6,1.8,2,2.2,2.4,2.6,2.8,3,3.3,3.6,4], "range": ["#ffffff","#f4ffff","#e0fbff","#b4ecfa","#88ddf8","#45c6f3","#22bff2","#0bb9f0","#1cc0a0","#2dc84a","#2cbc30","#1c9e1c","#128512","#0a6c0a","#044e04","#023402","#000000"], "interpolate": "rgb"}, "legend": null}
 }
},
{
 "width": 262, "height": 13,
 "data": {"name": "cbv"},
 "mark": {"type": "rect", "strokeWidth": 0.5},
 "encoding": {
  "x": {"field": "a", "type": "quantitative", "scale": {"domain": [10, 25], "nice": false, "zero": false}, "axis": {"values": [10, 15, 20, 25], "labelExpr": "format(datum.value, '~g')", "labelFontSize": 16, "tickSize": 5, "labelPadding": 5, "labelFlush": false, "title": "c₀ [M]", "titleFontSize": 25, "titlePadding": 6}},
  "x2": {"field": "b"},
  "fill": {"field": "v", "type": "quantitative", "scale": {"domain": [10,11.875,13,13.75,14.5,15.25,16,16.75,17.5,18.25,19,19.75,20.5,21.25,22.375,23.5,25], "range": ["#ffffff","#f4ffff","#e0fbff","#b4ecfa","#88ddf8","#45c6f3","#22bff2","#0bb9f0","#1cc0a0","#2dc84a","#2cbc30","#1c9e1c","#128512","#0a6c0a","#044e04","#023402","#000000"], "interpolate": "rgb"}, "legend": null},
  "stroke": {"field": "v", "type": "quantitative", "scale": {"domain": [10,11.875,13,13.75,14.5,15.25,16,16.75,17.5,18.25,19,19.75,20.5,21.25,22.375,23.5,25], "range": ["#ffffff","#f4ffff","#e0fbff","#b4ecfa","#88ddf8","#45c6f3","#22bff2","#0bb9f0","#1cc0a0","#2dc84a","#2cbc30","#1c9e1c","#128512","#0a6c0a","#044e04","#023402","#000000"], "interpolate": "rgb"}, "legend": null}
 }
}
],
"spacing": 36,
"bounds": "flush",
"resolve": {"scale": {"fill": "independent", "stroke": "independent"}, "legend": {"fill": "independent", "stroke": "independent"}}
}
],
"spacing": 13,
"bounds": "full",
"resolve": {"scale": {"fill": "independent", "stroke": "independent"}, "legend": {"fill": "independent", "stroke": "independent"}}
}
